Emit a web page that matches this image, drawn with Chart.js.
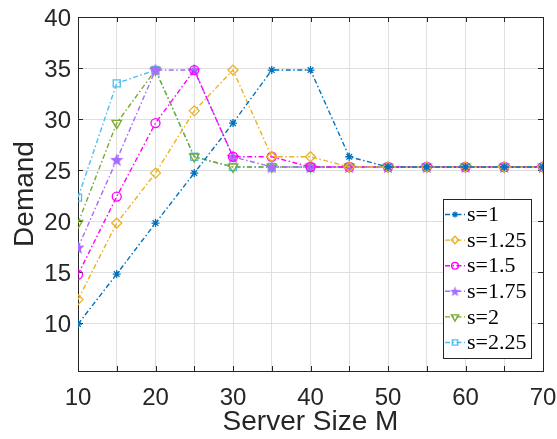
<!DOCTYPE html>
<html>
<head>
<meta charset="utf-8">
<script src="https://cdn.jsdelivr.net/npm/chart.js@4.4.1/dist/chart.umd.min.js"></script>
<style>
  html, body { margin: 0; padding: 0; background: #fff; }
  #wrap { width: 557px; height: 439px; }
</style>
</head>
<body>
<div id="wrap"><canvas id="chart"></canvas></div>
<script>
"use strict";
// server sizes on the x axis
const serverSizes = [10, 15, 20, 25, 30, 35, 40, 45, 50, 55, 60, 65, 70];
const seriesNames = ["s=1", "s=1.25", "s=1.5", "s=1.75", "s=2", "s=2.25"];
const demandS1   = [9.9, 14.8, 19.8, 24.7, 29.6, 34.8, 34.8, 26.3, 25.3, 25.3, 25.3, 25.3, 25.3];
const demandS125 = [12.3, 19.8, 24.7, 30.8, 34.8, 26.3, 26.3, 25.3, 25.3, 25.3, 25.3, 25.3, 25.3];
const demandS15  = [14.75, 22.4, 29.6, 34.8, 26.3, 26.3, 25.3, 25.3, 25.3, 25.3, 25.3, 25.3, 25.3];
const demandS175 = [17.4, 26.0, 34.8, 34.8, 26.3, 25.3, 25.3, 25.3, 25.3, 25.3, 25.3, 25.3, 25.3];
const demandS2   = [19.8, 29.6, 34.8, 26.3, 25.3, 25.3, 25.3, 25.3, 25.3, 25.3, 25.3, 25.3, 25.3];
const demandS225 = [22.3, 33.5, 34.8, 26.3, 25.3, 25.3, 25.3, 25.3, 25.3, 25.3, 25.3, 25.3, 25.3];
const yTickValues = [10, 15, 20, 25, 30, 35, 40];

const axisColor = "#262626";
const gridColor = "#dfdfdf";
const dashDot = [5, 2.5, 1.5, 2.5];

// filled pentagram marker (no built-in style for it)
function makePentagram(color, r) {
    let c = document.createElement("canvas");
    let size = Math.ceil(r * 2 + 2);
    c.width = size;
    c.height = size;
    let g = c.getContext("2d");
    g.fillStyle = color;
    g.beginPath();
    for (let i = 0; i < 10; i++) {
        let rad = i % 2 === 0 ? r : r * 0.42;
        let a = -Math.PI / 2 + i * Math.PI / 5;
        let px = size / 2 + rad * Math.cos(a);
        let py = size / 2 + 0.5 + rad * Math.sin(a);
        if (i === 0) g.moveTo(px, py); else g.lineTo(px, py);
    }
    g.closePath();
    g.fill();
    return c;
}

const styles = [
    { color: "#0072BD", pointStyle: "star", rotation: 0, radius: 4, fill: true },
    { color: "#EDB120", pointStyle: "rectRot", rotation: 0, radius: 5, fill: false },
    { color: "#FF00FF", pointStyle: "circle", rotation: 0, radius: 4.5, fill: false },
    { color: "#A66BFF", pointStyle: makePentagram("#A66BFF", 7), rotation: 0, radius: 6, fill: true },
    { color: "#77AC30", pointStyle: "triangle", rotation: 180, radius: 5.5, fill: false },
    { color: "#4DBEEE", pointStyle: "rect", rotation: 0, radius: 5, fill: false },
];
const legendStar = makePentagram("#A66BFF", 5.5);

const allSeries = [demandS1, demandS125, demandS15, demandS175, demandS2, demandS225];

const datasets = allSeries.map((vals, i) => {
    let st = styles[i];
    return {
        label: seriesNames[i],
        data: serverSizes.map((x, j) => ({ x: x, y: vals[j] })),
        borderColor: st.color,
        backgroundColor: st.fill ? st.color : "rgba(0,0,0,0)",
        borderWidth: 1.4,
        borderDash: dashDot,
        pointStyle: st.pointStyle,
        pointRotation: st.rotation,
        pointRadius: st.radius,
        pointBorderWidth: 1.3,
        pointBorderColor: st.color,
        pointBackgroundColor: st.fill ? st.color : "rgba(0,0,0,0)",
        tension: 0,
        fill: false,
    };
});

// box around the axes plus inward tick marks
const boxPlugin = {
    id: "box",
    beforeDatasetsDraw(chart) {
        let ctx = chart.ctx;
        let a = chart.chartArea;
        let xs = chart.scales.x;
        let ys = chart.scales.y;
        ctx.save();
        ctx.strokeStyle = axisColor;
        ctx.lineWidth = 1;
        ctx.strokeRect(Math.round(a.left) + 0.5, Math.round(a.top) + 0.5,
            Math.round(a.right - a.left), Math.round(a.bottom - a.top));
        ctx.beginPath();
        serverSizes.forEach((v) => {
            let px = Math.round(xs.getPixelForValue(v)) + 0.5;
            ctx.moveTo(px, a.bottom); ctx.lineTo(px, a.bottom - 5);
            ctx.moveTo(px, a.top); ctx.lineTo(px, a.top + 5);
        });
        yTickValues.forEach((v) => {
            let py = Math.round(ys.getPixelForValue(v)) + 0.5;
            ctx.moveTo(a.left, py); ctx.lineTo(a.left + 5, py);
            ctx.moveTo(a.right, py); ctx.lineTo(a.right - 5, py);
        });
        ctx.stroke();
        ctx.restore();
    },
    afterDraw(chart) {
        // legend box in lower right of the plot
        let ctx = chart.ctx;
        let bx = 443, by = 199, bw = 88, bh = 159;
        ctx.save();
        ctx.fillStyle = "#fff";
        ctx.fillRect(bx, by, bw, bh);
        ctx.strokeStyle = axisColor;
        ctx.lineWidth = 1;
        ctx.strokeRect(bx + 0.5, by + 0.5, bw, bh);
        ctx.font = "22px 'Liberation Serif'";
        ctx.textBaseline = "middle";
        seriesNames.forEach((name, i) => {
            let st = styles[i];
            let cy = 214.5 + i * 25.6;
            ctx.strokeStyle = st.color;
            ctx.lineWidth = 1.4;
            ctx.setLineDash(dashDot);
            ctx.beginPath();
            ctx.moveTo(445, cy);
            ctx.lineTo(465, cy);
            ctx.stroke();
            ctx.setLineDash([]);
            ctx.fillStyle = st.fill ? st.color : "rgba(0,0,0,0)";
            let ps = i === 3 ? legendStar : st.pointStyle;
            Chart.helpers.drawPoint(ctx, {
                pointStyle: ps,
                rotation: st.rotation,
                radius: st.radius * 0.75,
                borderWidth: 1.3,
            }, 455, cy);
            ctx.fillStyle = "#000";
            ctx.fillText(name, 467, cy + 1);
        });
        ctx.restore();
    },
};

new Chart(document.querySelector("#chart"), {
    type: "line",
    data: { datasets: datasets },
    plugins: [boxPlugin],
    options: {
        responsive: true,
        maintainAspectRatio: false,
        animation: false,
        layout: { padding: { top: 17, right: 14, left: 0, bottom: 0 } },
        plugins: {
            legend: { display: false },
            tooltip: { enabled: false },
        },
        scales: {
            x: {
                type: "linear",
                min: 10,
                max: 70,
                afterFit(scale) {
                    scale.height = 68;
                    scale.paddingLeft = 0;
                    scale.paddingRight = 0;
                },
                ticks: {
                    stepSize: 5,
                    autoSkip: false,
                    maxRotation: 0,
                    padding: 13,
                    color: axisColor,
                    font: { family: "'Liberation Sans'", size: 24 },
                    callback: (v) => (v % 10 === 0 ? String(v) : ""),
                },
                grid: { color: gridColor, drawTicks: false, lineWidth: 1 },
                border: { display: false },
                title: {
                    display: true,
                    text: "Server Size M",
                    color: axisColor,
                    font: { family: "'Liberation Sans'", size: 28 },
                    padding: { top: 0, bottom: 0 },
                },
            },
            y: {
                type: "linear",
                min: 5.3,
                max: 40,
                afterFit(scale) {
                    scale.width = 78;
                    scale.paddingTop = 0;
                    scale.paddingBottom = 0;
                },
                afterBuildTicks(scale) {
                    scale.ticks = yTickValues.map((v) => ({ value: v }));
                },
                ticks: {
                    padding: 7,
                    labelOffset: 2,
                    color: axisColor,
                    font: { family: "'Liberation Sans'", size: 24 },
                    callback: (v) => String(v),
                },
                grid: { color: gridColor, drawTicks: false, lineWidth: 1 },
                border: { display: false },
                title: {
                    display: true,
                    text: "Demand",
                    color: axisColor,
                    font: { family: "'Liberation Sans'", size: 28 },
                    padding: { top: 8, bottom: 0 },
                },
            },
        },
    },
});
</script>
</body>
</html>
